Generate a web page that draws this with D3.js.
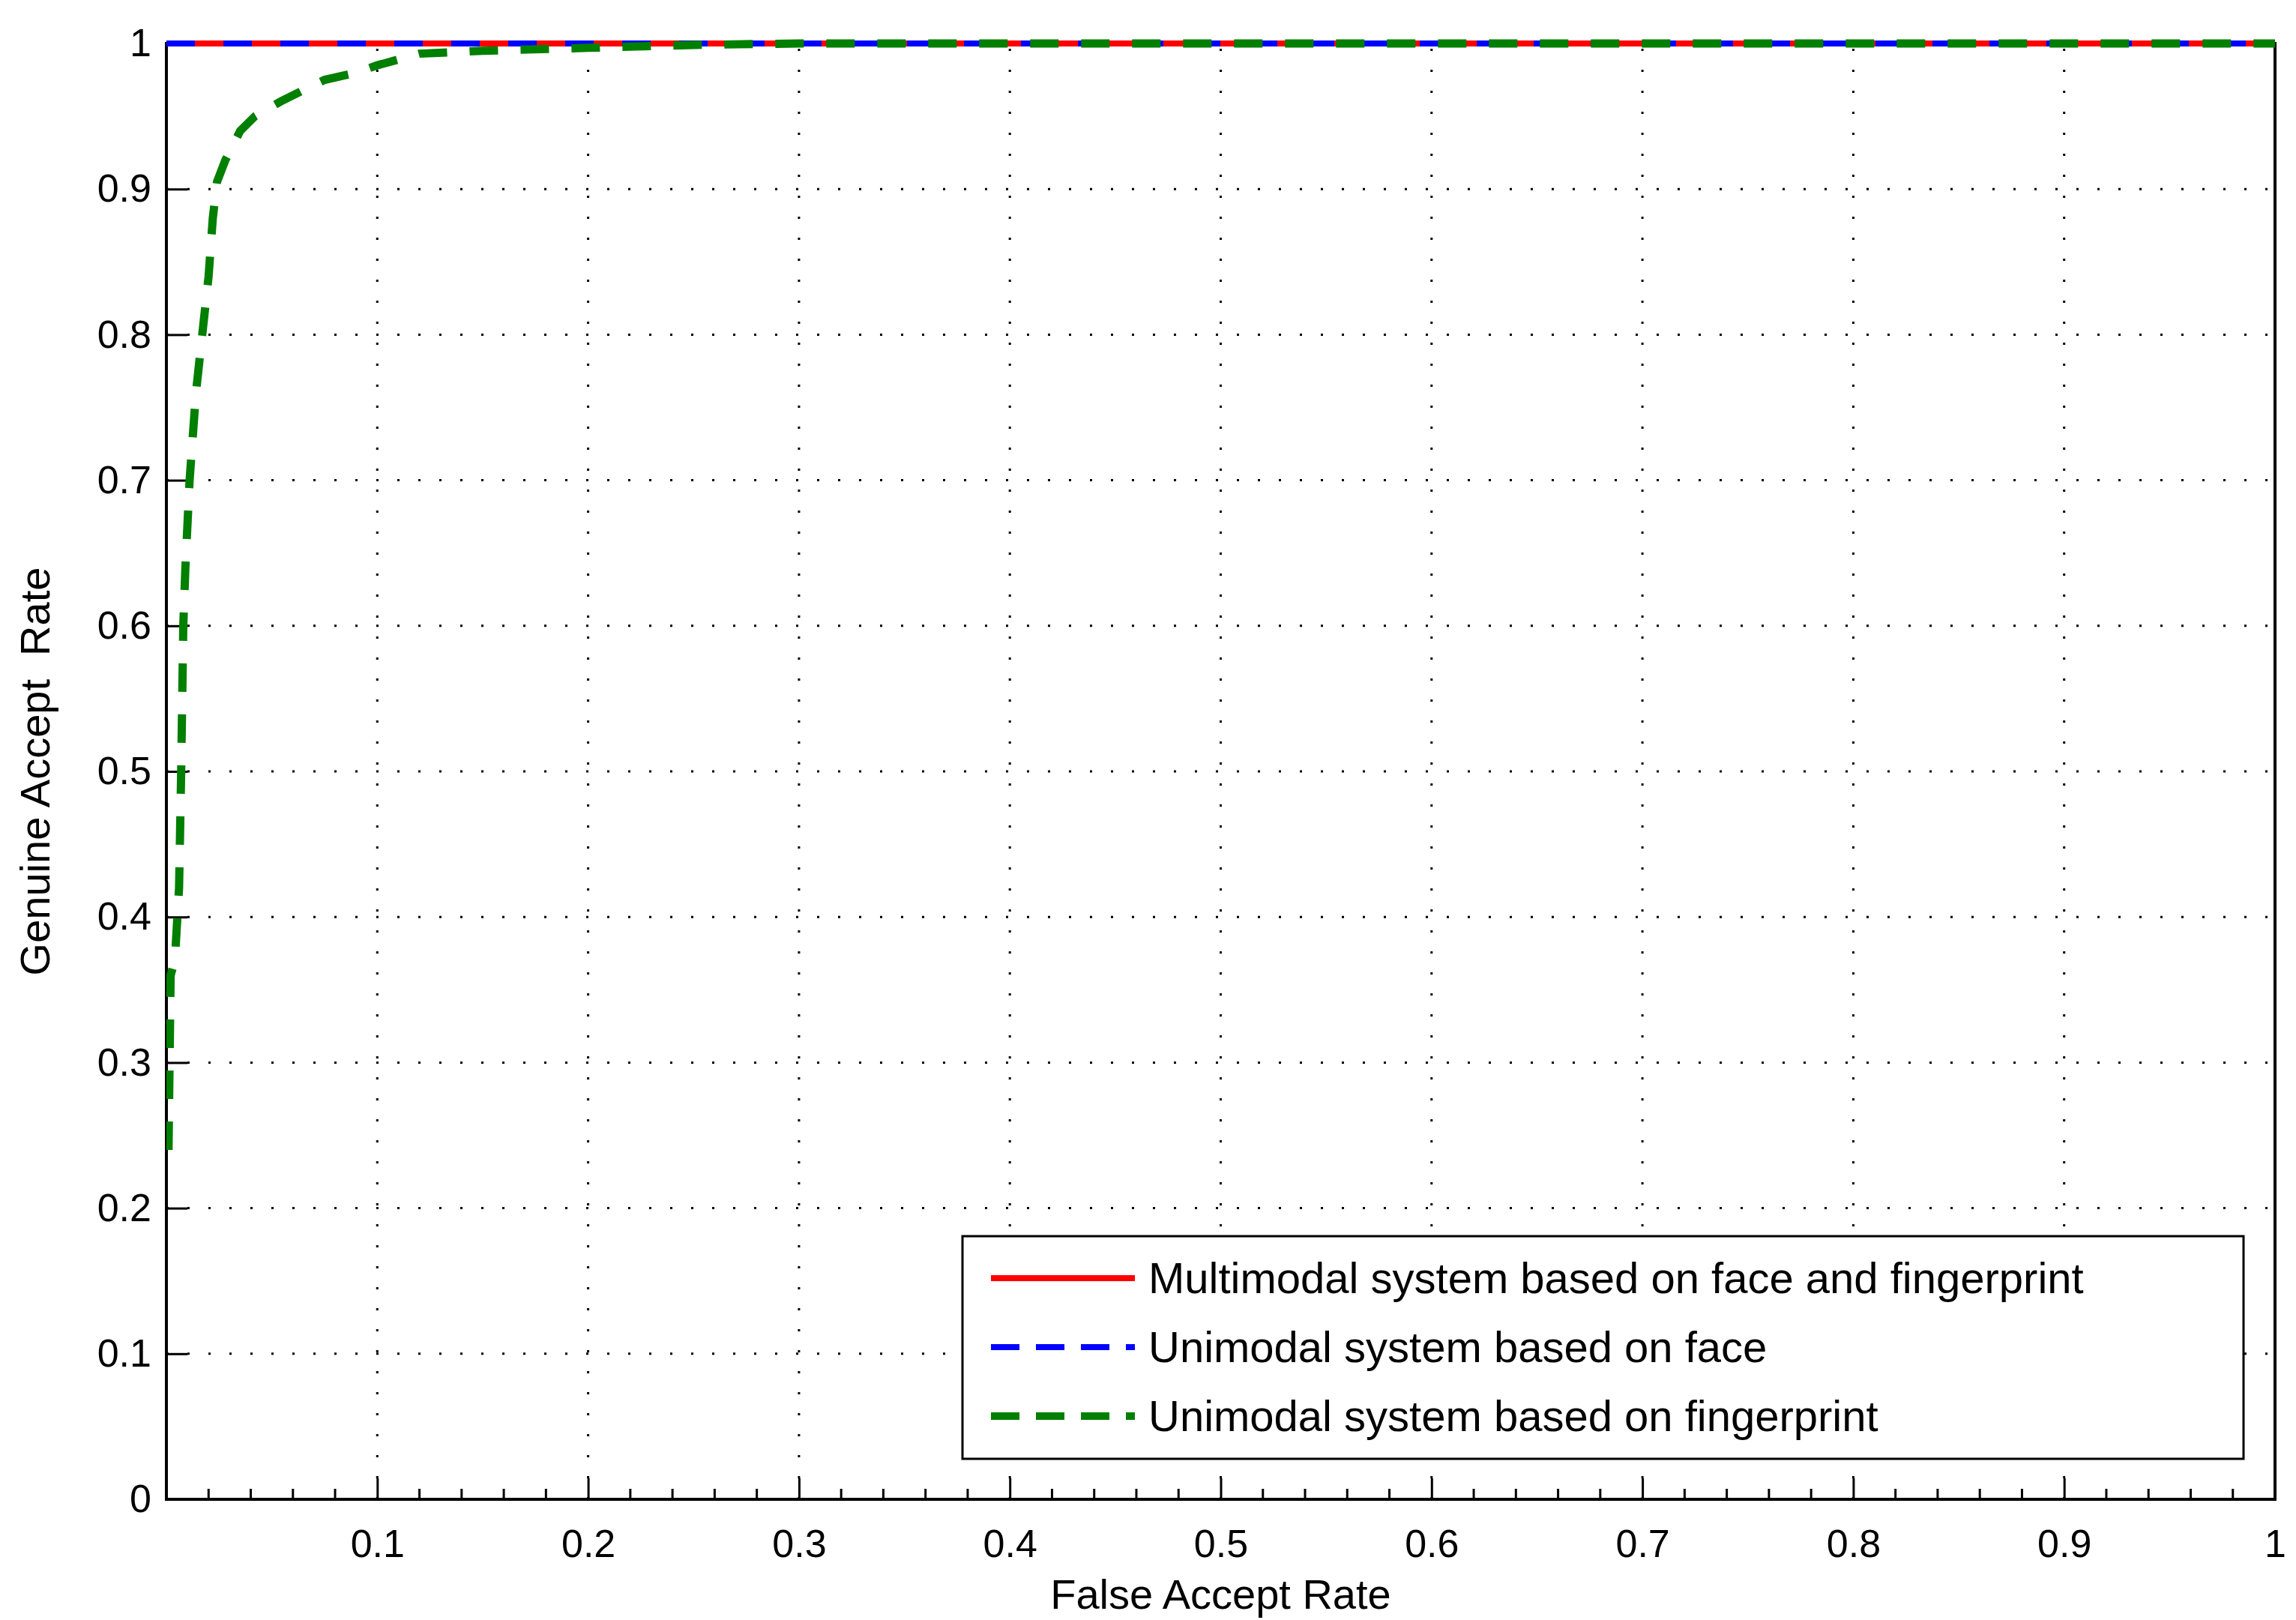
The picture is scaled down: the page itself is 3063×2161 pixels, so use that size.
<!DOCTYPE html>
<html><head><meta charset="utf-8">
<script src="https://cdn.jsdelivr.net/npm/d3@7"></script>
<style>body{margin:0;background:#fff}</style></head>
<body><svg id="c" width="3063" height="2161"></svg>
<script>
const xTicks=[0.1,0.2,0.3,0.4,0.5,0.6,0.7,0.8,0.9,1];
const yTicks=[0,0.1,0.2,0.3,0.4,0.5,0.6,0.7,0.8,0.9,1];
const multiFpr=[0,1], multiGar=[1,1];
const faceFpr=[0,1], faceGar=[1,1];
const fingerFpr=[0.001,0.002,0.004,0.006,0.007,0.008,0.009,0.011,0.014,0.017,0.02,0.022,0.024,0.028,0.035,0.042,0.054,0.065,0.075,0.09,0.1,0.12,0.15,0.2,0.25,0.3,1];
const fingerGar=[0.24,0.36,0.37,0.42,0.5,0.6,0.64,0.7,0.76,0.8,0.84,0.88,0.905,0.92,0.94,0.95,0.96,0.968,0.975,0.98,0.985,0.993,0.995,0.997,0.999,1,1];
const legendLabels=["Multimodal system based on face and fingerprint","Unimodal system based on face","Unimodal system based on fingerprint"];

const L=222,R=3035,T=58,B=2000;
const svg=d3.select("#c");
const x=d3.scaleLinear().domain([0,1]).range([L,R]);
const y=d3.scaleLinear().domain([0,1]).range([B,T]);
const font="'Liberation Sans',Arial,sans-serif";
const g=svg.append("g");
g.selectAll(".gx").data(xTicks.slice(0,-1)).join("line").attr("x1",d=>x(d)).attr("x2",d=>x(d)).attr("y1",B).attr("y2",T)
 .attr("stroke","#000").attr("stroke-width",3).attr("stroke-dasharray","3,25");
g.selectAll(".gy").data(yTicks.slice(1,-1)).join("line").attr("y1",d=>y(d)).attr("y2",d=>y(d)).attr("x1",L).attr("x2",R)
 .attr("stroke","#000").attr("stroke-width",3).attr("stroke-dasharray","3,25");
const minor=d3.range(0.02,1,0.02).filter(v=>Math.abs(v*10-Math.round(v*10))>1e-6);
svg.selectAll(".mx").data(minor).join("line").attr("x1",d=>x(d)).attr("x2",d=>x(d)).attr("y1",B).attr("y2",B-14).attr("stroke","#000").attr("stroke-width",3);
const xa=svg.append("g").attr("transform",`translate(0,${B})`).call(d3.axisBottom(x).tickValues(xTicks).tickFormat(d3.format("")).tickSizeInner(-28).tickSizeOuter(0).tickPadding(40));
const ya=svg.append("g").attr("transform",`translate(${L},0)`).call(d3.axisLeft(y).tickValues(yTicks).tickFormat(d3.format("")).tickSizeInner(-28).tickSizeOuter(0).tickPadding(20));
[xa,ya].forEach(a=>{a.selectAll("text").attr("font-family",font).attr("font-size",52).attr("fill","#000");
 a.selectAll("line").attr("stroke-width",3); a.select(".domain").remove();});
svg.append("rect").attr("x",L).attr("y",T).attr("width",R-L).attr("height",B-T).attr("fill","none").attr("stroke","#000").attr("stroke-width",4);
const line=d3.line().x(d=>x(d[0])).y(d=>y(d[1]));
svg.append("defs").append("clipPath").attr("id","cp").append("rect").attr("x",L).attr("y",T-10).attr("width",R-L).attr("height",B-T+10);
const lg=svg.append("g").attr("clip-path","url(#cp)");
lg.append("path").datum(d3.zip(multiFpr,multiGar)).attr("d",line).attr("fill","none").attr("stroke","#ff0000").attr("stroke-width",8);
lg.append("path").datum(d3.zip(faceFpr,faceGar)).attr("d",line).attr("fill","none").attr("stroke","#0000ff").attr("stroke-width",8).attr("stroke-dasharray","38,38");
lg.append("path").datum(d3.zip(fingerFpr,fingerGar)).attr("d",line).attr("fill","none").attr("stroke","#007f00").attr("stroke-width",11).attr("stroke-dasharray","38,30");
svg.append("text").attr("x",(L+R)/2).attr("y",2146).attr("text-anchor","middle").attr("font-family",font).attr("font-size",56).text("False Accept Rate");
svg.append("text").attr("transform",`translate(66,${(T+B)/2}) rotate(-90)`).attr("text-anchor","middle").attr("font-family",font).attr("font-size",56).attr("xml:space","preserve").text("Genuine Accept  Rate");
const lx=1284,ly=1649;
svg.append("rect").attr("x",lx).attr("y",ly).attr("width",1709).attr("height",297).attr("fill","#fff").attr("stroke","#000").attr("stroke-width",3);
const styles=[{c:"#ff0000",w:8,d:null},{c:"#0000ff",w:8,d:"38,22"},{c:"#007f00",w:10,d:"38,22"}];
legendLabels.forEach((t,i)=>{const yy=ly+56+i*92;
 svg.append("line").attr("x1",lx+38).attr("x2",lx+230).attr("y1",yy).attr("y2",yy).attr("stroke",styles[i].c).attr("stroke-width",styles[i].w).attr("stroke-dasharray",styles[i].d);
 svg.append("text").attr("x",lx+248).attr("y",yy+20).attr("font-family",font).attr("font-size",58).text(t);});
</script></body></html>
